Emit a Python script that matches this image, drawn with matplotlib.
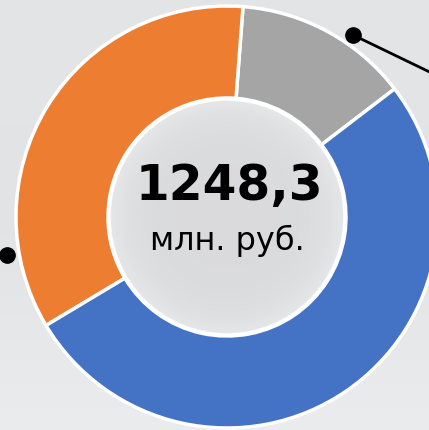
import matplotlib.pyplot as plt
import numpy as np
from matplotlib.patches import Circle

# revenue split, млн. руб.
labels = ['Прочие', 'Сегмент 2', 'Сегмент 1']
values = [167.3, 434.4, 646.6]
colors = ['#a5a5a5', '#ed7d31', '#4472c4']
total_text = '1248,3'
unit_text = 'млн. руб.'

W, H = 429, 430
fig = plt.figure(figsize=(W / 100, H / 100), dpi=100)
ax = fig.add_axes([0, 0, 1, 1])

# soft grey backdrop, a little lighter towards the bottom
yy = np.linspace(0, 1, 200)[:, None]
xx = np.linspace(0, 1, 200)[None, :]
bg = 0.895 + 0.03 * yy**2 - 0.01 * np.exp(-((yy - 0.55) / 0.25)**2)
bg = bg + 0 * xx
bg_rgb = np.dstack([bg - 0.004, bg, bg + 0.008])
ax.imshow(bg_rgb, extent=(0, W, 0, H), origin='upper', zorder=0, aspect='auto')

cx, cy = 227, H - 217
R, r = 211, 119

wedges, _ = ax.pie(values, colors=colors, startangle=37.4, counterclock=True,
                   radius=R, center=(cx, cy), frame=True,
                   wedgeprops=dict(width=R - r, edgecolor='white', linewidth=2.5))
for w in wedges:
    w.set_zorder(2)
ax.set_xlim(0, W)
ax.set_ylim(0, H)
ax.set_aspect('equal')
ax.axis('off')

# centre disc, slightly lighter towards its rim
g = np.linspace(-1, 1, 300)
gx, gy = np.meshgrid(g, g)
rad = np.sqrt(gx**2 + gy**2)
disc = 0.855 + 0.05 * np.clip(rad, 0, 1)**5
disc_rgb = np.dstack([disc, disc + 0.003, disc + 0.01])
im = ax.imshow(np.clip(disc_rgb, 0, 1), extent=(cx - r, cx + r, cy - r, cy + r),
               origin='lower', zorder=3)
clip = Circle((cx, cy), r, transform=ax.transData)
im.set_clip_path(clip)
ax.add_patch(Circle((cx, cy), r - 1, fill=False, edgecolor='white', linewidth=2.5, zorder=4))

ax.text(cx + 2, H - 186, total_text, ha='center', va='center', fontsize=35,
        fontweight='bold', color='black', zorder=5)
ax.text(cx, H - 241, unit_text, ha='center', va='center', fontsize=23,
        color='black', zorder=5)

# leader lines to the outside captions
ax.plot([353, 440], [H - 35, H - 77], color='black', lw=2, zorder=5)
ax.plot([353], [H - 35], 'o', color='black', ms=11, zorder=6)
ax.plot([7], [H - 255], 'o', color='black', ms=11, zorder=6)

fig.savefig('out.png', dpi=100)
